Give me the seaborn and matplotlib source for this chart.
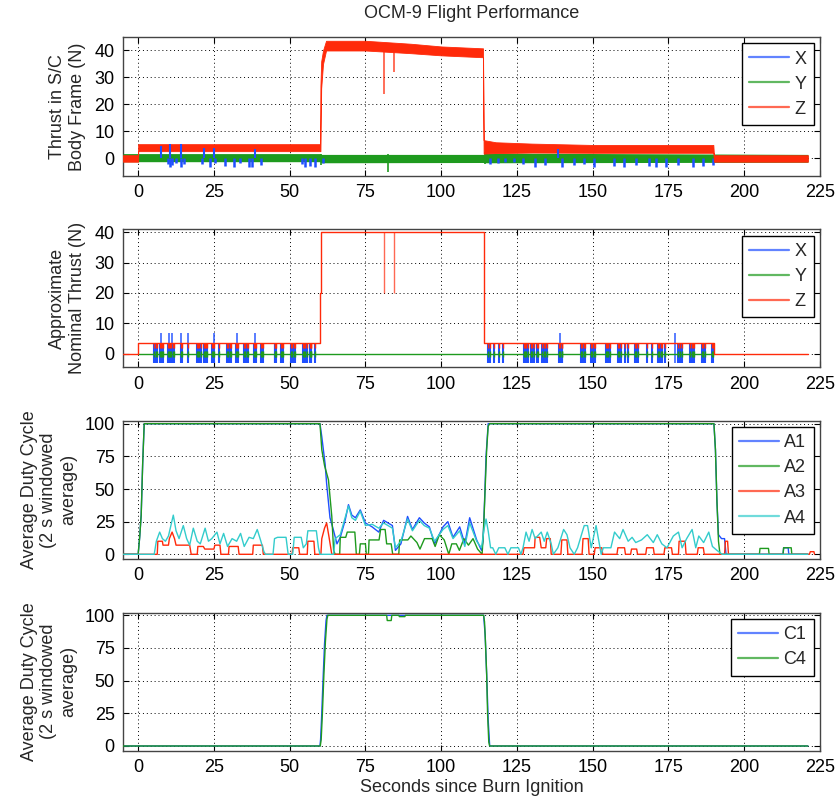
import numpy as np
import matplotlib
matplotlib.use("Agg")
import matplotlib.pyplot as plt
import seaborn as sns
from matplotlib.lines import Line2D

sns.set_style("ticks")
plt.rcParams['font.family'] = ['Liberation Sans', 'DejaVu Sans']

BLUE = '#1f4fff'
GREEN = '#1e9a1e'
RED = '#ff2a0a'
CYAN = '#33cccc'

# ---- panel 1: measured thrust, read as envelopes + spikes ----
z_band_t = [-5, 0, 0, 60, 60.15, 60.4, 61, 62, 75, 90, 100, 113.8, 114, 118, 130, 150, 189.8, 190, 221]
z_band_lo = [-1.2, -1.2, 2.7, 2.7, 2.7, 26, 35, 40, 40, 39, 38.2, 37.5, 1.8, 2.0, 2.2, 2.1, 2.1, -1.2, -1.2]
z_band_hi = [1.2, 1.2, 5.3, 5.3, 27, 36, 40, 43.6, 43.6, 42.5, 41.5, 40.8, 6.8, 6.0, 5.5, 5.0, 5.0, 1.2, 1.2]
z_spike_t = [81.0, 84.5]
z_spike_lo = [24, 32]
z_spike_hi = [40, 40]

y_band_t = [-5, 60, 60.5, 114, 114.5, 221]
y_band_lo = [-1.2, -1.2, -1.6, -1.5, -1.6, -1.4]
y_band_hi = [1.8, 1.8, 1.5, 1.5, 2.0, 1.5]
y_spike_t = [60.2, 82.5, 114.3]
y_spike_lo = [-2.5, -5.0, -2.0]
y_spike_hi = [1.5, 1.5, 2.5]

x_band_t = [-5, 221]
x_band_lo = [-0.9, -0.9]
x_band_hi = [0.9, 0.9]
x_dn_t = [9.8, 10.5, 11.2, 12.5, 14.3, 15.0, 21.0, 23.8, 25.5, 28.8, 31.6, 33.5, 36.6, 37.7, 40.5,
          54.2, 55.0, 56.6, 58.2, 61.0,
          116.1, 118.9, 121.0, 124.0, 127.0, 130.9, 134.2, 139.8, 143.7, 147.0, 150.4, 157.0,
          160.4, 164.2, 168.7, 170.9, 174.2, 178.0, 183.0, 186.4, 189.8]
x_dn_lo = [-2.0, -3.2, -2.5, -1.8, -3.0, -2.0, -2.2, -3.0, -1.8, -2.8, -3.0, -1.8, -3.3, -3.0, -2.5,
           -2.0, -3.2, -2.8, -3.0, -1.5,
           -2.0, -1.5, -1.2, -1.2, -2.2, -3.0, -2.5, -3.2, -2.5, -2.2, -3.0, -2.8,
           -3.2, -2.5, -2.8, -3.0, -3.2, -2.5, -3.0, -2.8, -2.5]
x_up_t = [7.7, 10.5, 14.3, 21.6, 24.9, 38.5, 138.5]
x_up_hi = [4.5, 5.5, 5.5, 4.0, 3.8, 3.5, 3.5]

# ---- panel 2: nominal thrust ----
zn_t = [-5, 0, 0, 60, 60, 60.3, 60.3, 114, 114, 190, 190, 221]
zn_v = [0, 0, 3.5, 3.5, 20, 20, 40, 40, 3.5, 3.5, 0, 0]
zn_dip_t = [81.0, 84.5]
yn_t = [0, 190]
yn_v = [0, 0]
pulse_t = [5.3, 5.8, 6.1, 7.3, 7.6, 8.0, 8.3, 10.0, 10.3, 10.6, 11.0, 11.4, 11.7, 14.0, 14.4, 16.6,
           19.4, 19.8, 20.2, 20.6, 21.6, 22.0, 22.4, 22.8, 24.4, 24.7, 25.0, 26.6, 29.4, 29.8, 30.2,
           30.6, 32.2, 32.6, 33.0, 35.0, 35.4, 35.8, 36.1, 38.3, 38.6, 38.9, 40.5, 40.8, 41.1, 45.0,
           45.3, 45.6, 47.2, 47.5, 47.8, 50.5, 50.9, 51.3, 51.6, 54.4, 54.8, 55.2, 55.6, 56.6, 56.9,
           57.2, 58.3,
           115.3, 116.2, 117.5, 119.0, 120.5, 127.2, 127.6, 128.0, 128.6, 129.5, 130.0, 130.6, 131.5,
           132.0, 133.3, 133.8, 134.4, 135.0, 138.9, 139.3, 139.7, 140.0, 146.1, 146.5, 147.0, 147.5,
           149.4, 149.8, 150.3, 150.8, 154.4, 154.8, 155.2, 155.6, 158.3, 158.8, 159.4, 160.5, 161.5,
           163.9, 164.4, 165.0, 167.8, 169.5, 171.6, 172.0, 172.5, 173.0, 174.0, 178.3, 178.8, 179.4,
           182.2, 182.6, 183.0, 183.3, 186.1, 186.5, 187.0, 189.4, 189.8]
tall_t = [7.5, 10.2, 11.2, 14.0, 16.6, 25.0, 32.6, 38.6, 139.3, 177.2]

# ---- panel 3: duty cycles A1..A4 ----
a1_t = [-5, 0, 0.5, 1, 1.5, 2, 60, 60.6, 61.7, 62.2, 63.3, 64.5, 65.6, 66.7, 68.3, 69.4, 70.5, 71.7,
        73.3, 75, 77.2, 79.4, 81, 83.9, 84.9, 86.7, 88.9, 90.5, 92.8, 94.4, 96.1, 97.8, 100.6, 102.2,
        103.9, 106.1, 107.8, 109.4, 111.7, 113.3, 113.8, 114.3, 114.8, 115.5, 190, 190.5, 191, 191.5,
        192.5, 193.5, 194, 212.8, 213, 214.5, 214.7, 221]
a1_v = [0, 0, 13, 30, 70, 100, 100, 90, 69, 54, 28, 18, 8, 13, 26, 38, 30, 28,
        34, 24, 21, 17, 26, 22, 3, 8, 29, 19, 28, 24, 21, 8, 21, 25,
        13, 21, 8, 28, 11, 3, 10, 40, 75, 100, 100, 80, 40, 15,
        12, 12, 0, 0, 5, 5, 0, 0]
a2_t = [-5, 0, 0.5, 1, 1.5, 2, 60, 60.6, 61.5, 62.8, 63.9, 64.5, 65, 66.5, 66.7, 68.5, 69, 71.5, 72,
        73, 73.3, 75, 75.3, 76, 76.2, 79.5, 80, 81.5, 82, 83.5, 84, 86, 86.3, 89, 90, 92, 93, 94.5,
        97, 98, 99.4, 101, 102.5, 103.5, 105, 106, 107.5, 109, 110.5, 112, 113.5, 114, 114.5, 115,
        115.5, 116, 190, 190.5, 191, 191.5, 192, 205, 205.2, 208, 208.2, 212.8, 213, 215.5, 215.7, 221]
a2_v = [0, 0, 13, 30, 70, 100, 100, 80, 68, 57, 29, 3, 0, 0, 13, 13, 17, 17, 0,
        0, 8, 8, 0, 0, 11, 11, 19, 19, 8, 8, 0, 0, 11, 11, 14, 9, 4, 12,
        12, 6, 15, 11, 0, 8, 8, 3, 12, 7, 12, 4, 0, 20, 50, 80,
        98, 100, 100, 80, 40, 10, 0, 0, 4.5, 4.5, 0, 0, 5, 5, 0, 0]
a3_t = [-5, 6.3, 6.5, 8, 8.2, 10, 10.3, 11.2, 12, 12.5, 17, 17.5, 19.5, 19.7, 21.5, 22, 25, 25.3, 27,
        27.3, 29.8, 30, 33, 33.3, 37.8, 38, 41, 41.3, 50.8, 51, 53, 53.3, 55.8, 56, 58, 58.3, 60.3,
        60.6, 61.5, 62.2, 63, 63.9, 127, 127.3, 130.8, 131, 132.5, 133, 134.5, 134.8, 136, 136.3,
        139.5, 139.8, 141.5, 141.8, 146.5, 146.8, 148.5, 148.8, 150.5, 150.8, 153, 153.3, 158, 158.3,
        160.5, 160.8, 162.5, 162.8, 164.5, 164.8, 167.5, 167.8, 170, 170.3, 173.5, 173.8, 176, 176.3,
        178.3, 178.5, 180.5, 180.8, 184.5, 184.8, 186.5, 186.8, 193.5, 193.8, 194.5, 194.8, 221.5,
        221.8, 223, 223.2]
a3_v = [0, 0, 10, 10, 7, 7, 12, 17, 12, 7, 7, 0, 0, 6, 6, 4, 4, 7, 7,
        0, 0, 6, 6, 0, 0, 7, 7, 0, 0, 5, 5, 0, 0, 10, 10, 0, 0,
        12, 20, 24, 13, 0, 0, 5, 5, 13, 13, 5, 5, 12, 12, 0,
        0, 11, 11, 0, 0, 12, 12, 0, 0, 5, 5, 0, 0, 5,
        5, 0, 0, 4, 4, 0, 0, 5, 5, 0, 0, 5, 5, 0,
        0, 10, 10, 0, 0, 5, 5, 0, 0, 10, 10, 0, 0,
        2, 2, 0]
a4_t = [-5, 5.3, 6, 7.1, 8, 9, 10, 11.6, 12.5, 13.5, 14.9, 16, 17, 18.2, 19.5, 20.5, 22.1, 23.2, 24.3,
        26, 27, 28.2, 29.5, 31, 32.5, 33.8, 35, 36.6, 38, 39.3, 40.5, 41.5, 42, 44.5, 45, 46, 48.8,
        49.5, 51, 51.5, 53.8, 54.5, 55.5, 56, 58.8, 59.5, 60, 64.5, 65, 66.7, 68.3, 69.4, 70.5, 71.7,
        73.3, 75, 77.2, 79.4, 81, 83.9, 84.9, 86.7, 88.9, 90.5, 92.8, 94.4, 96.1, 97.8, 100.6, 102.2,
        103.9, 106.1, 107.8, 109.4, 111.7, 113.3, 114.2, 114.8, 115.5, 116.3, 117, 118, 119, 121, 122,
        123, 125.5, 126.3, 127, 128, 129, 130, 131, 133, 134, 135, 136.3, 137, 138.5, 140.4, 141.5,
        142.5, 143.9, 145, 147.2, 148.3, 149.5, 151.1, 152.8, 153.5, 156, 157.2, 158.9, 160, 161.7,
        163, 164.2, 166.1, 168, 170, 171.3, 172.8, 174.5, 176.6, 178.3, 179.5, 181, 182.8, 184, 185,
        186.6, 188.3, 189.5, 191, 192.7, 221]
a4_v = [0, 0, 10, 17, 12, 10, 14, 30, 18, 12, 22, 12, 7, 20, 10, 8, 20, 10, 12,
        17, 8, 16, 6, 12, 10, 16, 6, 13, 12, 19, 10, 2, 0, 0, 12, 13, 13,
        0, 0, 13, 13, 5, 8, 18, 18, 5, 0, 0, 12, 15, 28, 37, 28, 26,
        33, 22, 23, 20, 24, 20, 5, 10, 27, 18, 26, 22, 20, 10, 19, 22,
        12, 18, 6, 24, 10, 5, 20, 27, 18, 5, 5, 0, 5, 5, 0,
        5, 5, 0, 5, 17, 10, 19, 12, 17, 10, 17, 8, 0, 5, 19, 15,
        5, 0, 5, 22, 22, 5, 22, 0, 5, 5, 17, 12, 19, 10,
        13, 9, 11, 15, 9, 15, 8, 5, 14, 17, 5, 12, 19, 5, 14,
        9, 17, 6, 3, 0, 0]

# ---- panel 4: duty cycles C1, C4 ----
c1_t = [-5, 60, 60.2, 60.5, 61, 61.5, 62, 62.3, 114, 114.5, 115, 115.5, 116, 221]
c1_v = [0, 0, 5, 20, 50, 78, 96, 100, 100, 85, 55, 20, 0, 0]
c4_t = [-5, 60.1, 60.4, 60.8, 61.3, 61.8, 62.3, 62.6, 82, 82.2, 83.5, 83.7, 86, 86.2, 88, 88.2,
        114, 114.3, 114.6, 115, 115.3, 115.7, 116, 221]
c4_v = [0, 0, 5, 25, 55, 80, 97, 100, 100, 96, 96, 100, 100, 99, 99, 100,
        100, 95, 80, 55, 25, 3, 0, 0]

W, H = 837, 799
fig = plt.figure(figsize=(W / 100, H / 100), dpi=100)
boxes = [(37, 176), (229.3, 367.3), (420.7, 559), (612.7, 750.7)]
axes = [fig.add_axes([123 / W, 1 - b / H, 697 / W, (b - t) / H]) for t, b in boxes]


def line(ax, t, v, color, z=2):
    sns.lineplot(x=t, y=v, ax=ax, color=color, lw=1.0, estimator=None, sort=False,
                 legend=False, zorder=z)


def add_legend(ax, labels, colors):
    handles = [Line2D([0], [0], color=c, lw=1.6, alpha=0.7) for c in colors]
    leg = ax.legend(handles, labels, loc='upper right', fontsize=13, frameon=True,
                    fancybox=False, framealpha=1, edgecolor='black', borderaxespad=0.35,
                    handlelength=2.2, handletextpad=0.3, labelspacing=0.45, borderpad=0.4)
    leg.get_frame().set_linewidth(1.0)
    leg.set_zorder(10)


# panel 1
ax = axes[0]
ax.fill_between(x_band_t, x_band_lo, x_band_hi, color=BLUE, lw=0, zorder=2)
ax.fill_between(y_band_t, y_band_lo, y_band_hi, color=GREEN, lw=0, zorder=3)
ax.vlines(y_spike_t, y_spike_lo, y_spike_hi, color=GREEN, lw=1.2, zorder=3)
ax.vlines(x_dn_t, x_dn_lo, 0.3, color=BLUE, lw=1.8, zorder=3.5)
ax.fill_between(z_band_t, z_band_lo, z_band_hi, color=RED, lw=0.6, edgecolor=RED, zorder=4)
ax.vlines(z_spike_t, z_spike_lo, z_spike_hi, color=RED, lw=1.2, alpha=0.8, zorder=4)
ax.vlines(x_up_t, 0, x_up_hi, color=BLUE, lw=1.5, zorder=5)
ax.set_ylim(-6.5, 45)
ax.set_yticks([0, 10, 20, 30, 40])
ax.set_ylabel('Thrust in S/C\nBody Frame (N)')
add_legend(ax, ['X', 'Y', 'Z'], [BLUE, GREEN, RED])

# panel 2
ax = axes[1]
ax.vlines(pulse_t, -3.2, 3.3, color=BLUE, lw=1.5, zorder=2)
ax.vlines(tall_t, -3.2, 6.7, color=BLUE, lw=1.3, alpha=0.8, zorder=2)
line(ax, yn_t, yn_v, GREEN, z=3)
ax.vlines(pulse_t, -1.1, 0.9, color=GREEN, lw=1.0, zorder=3)
line(ax, zn_t, zn_v, RED, z=4)
ax.vlines(pulse_t, 2.0, 3.5, color=RED, lw=1.0, zorder=4)
ax.vlines(zn_dip_t, 20, 40, color=RED, lw=1.0, alpha=0.7, zorder=4)
ax.set_ylim(-4.5, 41)
ax.set_yticks([0, 10, 20, 30, 40])
ax.set_ylabel('Approximate\nNominal Thrust (N)')
add_legend(ax, ['X', 'Y', 'Z'], [BLUE, GREEN, RED])

# panel 3
ax = axes[2]
line(ax, a1_t, a1_v, BLUE, z=2)
line(ax, a2_t, a2_v, GREEN, z=3)
line(ax, a3_t, a3_v, RED, z=4)
line(ax, a4_t, a4_v, CYAN, z=5)
ax.set_ylim(-3.6, 102.3)
ax.set_yticks([0, 25, 50, 75, 100])
ax.set_ylabel('Average Duty Cycle\n(2 s windowed\naverage)')
add_legend(ax, ['A1', 'A2', 'A3', 'A4'], [BLUE, GREEN, RED, CYAN])

# panel 4
ax = axes[3]
line(ax, c1_t, c1_v, BLUE, z=2)
line(ax, c4_t, c4_v, GREEN, z=3)
ax.set_ylim(-3.6, 102)
ax.set_yticks([0, 25, 50, 75, 100])
ax.set_ylabel('Average Duty Cycle\n(2 s windowed\naverage)')
add_legend(ax, ['C1', 'C4'], [BLUE, GREEN])

for i, ax in enumerate(axes):
    ax.set_xlim(-5, 225)
    ax.set_xticks(np.arange(0, 226, 25))
    ax.grid(True, color='black', lw=0.7, linestyle=(0, (1, 3)))
    ax.tick_params(direction='in', length=4, width=0.8, top=True, right=True,
                   labelsize=13, pad=6, colors='black')
    for s in ax.spines.values():
        s.set_color('#444444')
        s.set_linewidth(1.0)
        s.set_visible(True)
    ax.set_xlabel('')
    ax.yaxis.label.set_fontsize(13)
    ax.yaxis.label.set_linespacing(1.2)
    ax.yaxis.set_label_coords(-0.053 if i < 2 else -0.066, 0.5)

fig.text(471.5 / W, 1 - 14 / H, 'OCM-9 Flight Performance', ha='center', va='center', fontsize=13)
fig.text(471.5 / W, 1 - 787 / H, 'Seconds since Burn Ignition', ha='center', va='center', fontsize=13)

fig.savefig('out.png', dpi=100, facecolor='white')
